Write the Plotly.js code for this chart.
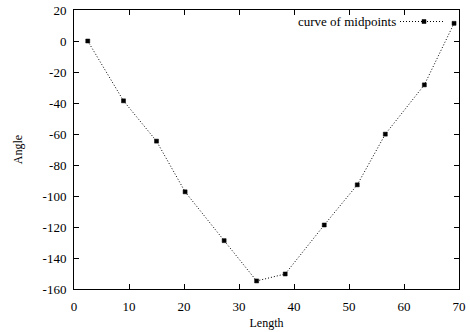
<!DOCTYPE html>
<html>
<head>
<meta charset="utf-8">
<script src="https://cdn.plot.ly/plotly-3.0.1.min.js"></script>
<style>html,body{margin:0;padding:0;background:#fff}#chart{width:470px;height:332px}</style>
</head>
<body>
<div id="chart"></div>
<script>
const lengthValues = [2.5, 9.0, 15.0, 20.2, 27.3, 33.2, 38.4, 45.5, 51.5, 56.6, 63.7, 69.1];
const angleValues = [0.0, -38.6, -64.6, -97.3, -128.8, -154.8, -150.3, -118.7, -92.8, -60.1, -28.3, 11.4];
const seriesName = "curve of midpoints";
const xTicks = [0, 10, 20, 30, 40, 50, 60, 70];
const yTicks = [20, 0, -20, -40, -60, -80, -100, -120, -140, -160];

const fontFam = "'Liberation Serif', 'Times New Roman', serif";

const trace = {
  x: lengthValues,
  y: angleValues,
  type: "scatter",
  mode: "lines+markers",
  name: seriesName,
  line: {color: "#000", width: 1, dash: "1px,2px"},
  marker: {symbol: "square", size: 4, color: "#000", line: {color: "#000", width: 0.5}},
  showlegend: false
};

// helper trace so the overlaid tick-only axes are drawn
const tickTrace = {
  x: lengthValues, y: angleValues, xaxis: "x2", yaxis: "y2",
  type: "scatter", mode: "none", showlegend: false, hoverinfo: "skip"
};

const fontTick = {family: fontFam, size: 13, color: "#000"};

const layout = {
  width: 470, height: 332,
  margin: {l: 74, r: 11, t: 10, b: 43},
  paper_bgcolor: "#fff", plot_bgcolor: "#fff",
  font: {family: fontFam, size: 13, color: "#000"},
  xaxis: {
    range: [0, 70], tickvals: xTicks, ticktext: xTicks.map(String),
    showline: true, linecolor: "#000", linewidth: 1, mirror: true,
    ticks: "outside", ticklen: 5, tickcolor: "rgba(0,0,0,0)",
    showgrid: false, zeroline: false, tickfont: fontTick,
    title: {text: "Length", font: {family: fontFam, size: 12}, standoff: 6}
  },
  yaxis: {
    range: [-160, 20], tickvals: yTicks, ticktext: yTicks.map(String),
    showline: true, linecolor: "#000", linewidth: 1, mirror: true,
    ticks: "outside", ticklen: 4, tickcolor: "rgba(0,0,0,0)",
    showgrid: false, zeroline: false, tickfont: fontTick,
    title: {text: "Angle", font: {family: fontFam, size: 12}, standoff: 17}
  },
  xaxis2: {
    overlaying: "x", anchor: "y2", side: "bottom", range: [0, 70], tickvals: xTicks,
    ticks: "inside", ticklen: 5, tickcolor: "#000", tickwidth: 1, mirror: "ticks",
    showticklabels: false, showline: false, showgrid: false, zeroline: false
  },
  yaxis2: {
    overlaying: "y", anchor: "x2", side: "left", range: [-160, 20], tickvals: yTicks,
    ticks: "inside", ticklen: 5, tickcolor: "#000", tickwidth: 1, mirror: "ticks",
    showticklabels: false, showline: false, showgrid: false, zeroline: false
  },
  annotations: [{
    xref: "paper", yref: "paper", x: (397.5 - 74) / 385, y: 1 - (21.5 - 10) / 279,
    xanchor: "right", yanchor: "middle", showarrow: false,
    text: seriesName, font: {family: fontFam, size: 13, color: "#000"}
  }],
  shapes: [
    {type: "line", xref: "paper", yref: "paper",
     x0: (400 - 74) / 385, x1: (443 - 74) / 385,
     y0: 1 - (21.5 - 10) / 279, y1: 1 - (21.5 - 10) / 279,
     line: {color: "#000", width: 1, dash: "1px,2px"}},
    {type: "rect", xref: "paper", yref: "paper",
     x0: (422 - 74) / 385, x1: (426 - 74) / 385,
     y0: 1 - (19.5 - 10) / 279, y1: 1 - (23.5 - 10) / 279,
     fillcolor: "#000", line: {color: "#000", width: 0.5}}
  ]
};

Plotly.newPlot("chart", [tickTrace, trace], layout, {displayModeBar: false, staticPlot: true});
</script>
</body>
</html>
